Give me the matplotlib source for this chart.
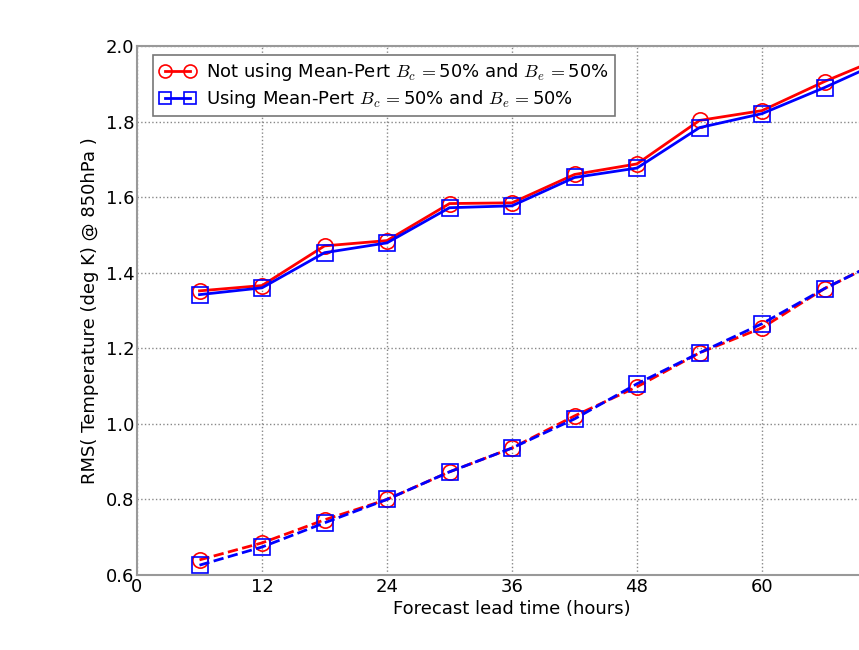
import matplotlib
matplotlib.use("Agg")
import matplotlib.pyplot as plt

# forecast lead times (hours)
lead_time = [6, 12, 18, 24, 30, 36, 42, 48, 54, 60, 66, 72]

# solid lines (upper pair)
not_mean_pert = [1.352, 1.366, 1.471, 1.485, 1.583, 1.585, 1.660, 1.688, 1.803, 1.829, 1.906, 1.975]
mean_pert = [1.342, 1.360, 1.453, 1.479, 1.572, 1.577, 1.652, 1.677, 1.784, 1.821, 1.890, 1.965]

# dashed lines (lower pair)
not_mean_pert_d = [0.640, 0.685, 0.746, 0.800, 0.873, 0.936, 1.021, 1.098, 1.188, 1.254, 1.358, 1.440]
mean_pert_d = [0.626, 0.674, 0.738, 0.800, 0.873, 0.936, 1.013, 1.106, 1.188, 1.265, 1.358, 1.440]

xticks = [0, 12, 24, 36, 48, 60]
yticks = [0.6, 0.8, 1.0, 1.2, 1.4, 1.6, 1.8, 2.0]

plt.rcParams['mathtext.fontset'] = 'cm'
plt.rcParams['font.family'] = 'DejaVu Sans'

fig = plt.figure(figsize=(8.59, 6.5), dpi=100)
# axes runs past the right edge, the original picture is cropped there
ax = fig.add_axes([137 / 859, 75 / 650, 750 / 859, 529 / 650])

lbl_a = r'Not using Mean-Pert $B_c\,=$50% and $B_e\,=$50%'
lbl_b = r'Using Mean-Pert $B_c\,=$50% and $B_e\,=$50%'

ax.plot(lead_time, not_mean_pert, '-o', color='red', lw=2, ms=11, mfc='none', mec='red', mew=1.2, label=lbl_a)
ax.plot(lead_time, mean_pert, '-s', color='blue', lw=2, ms=11, mfc='none', mec='blue', mew=1.2, label=lbl_b)
ax.plot(lead_time, not_mean_pert_d, '--o', color='red', lw=2, ms=11, mfc='none', mec='red', mew=1.2)
ax.plot(lead_time, mean_pert_d, '--s', color='blue', lw=2, ms=11, mfc='none', mec='blue', mew=1.2)

ax.set_xlim(0, 72)
ax.set_ylim(0.6, 2.0)
ax.set_xticks(xticks)
ax.set_yticks(yticks)
ax.set_xticklabels([str(t) for t in xticks])
ax.set_yticklabels(['%.1f' % t for t in yticks])
ax.tick_params(labelsize=13, direction='in', length=0, pad=2, colors='black')
ax.grid(True, linestyle=':', color='#888888', lw=1)

for s in ax.spines.values():
    s.set_color('#999999')
    s.set_linewidth(1.5)

ax.set_xlabel('Forecast lead time (hours)', fontsize=13, labelpad=3)
ax.set_ylabel('RMS( Temperature (deg K) @ 850hPa )', fontsize=13, labelpad=5)

leg = ax.legend(loc='upper left', bbox_to_anchor=(16 / 750, 1 - 9 / 529), numpoints=2,
                fontsize=13, fancybox=False, framealpha=1, borderaxespad=0, markerscale=0.85,
                handlelength=2.0, handletextpad=0.6, labelspacing=0.25, borderpad=0.35)
leg.get_frame().set_edgecolor('#777777')
leg.get_frame().set_linewidth(1.2)

fig.savefig('out.png', dpi=100)
